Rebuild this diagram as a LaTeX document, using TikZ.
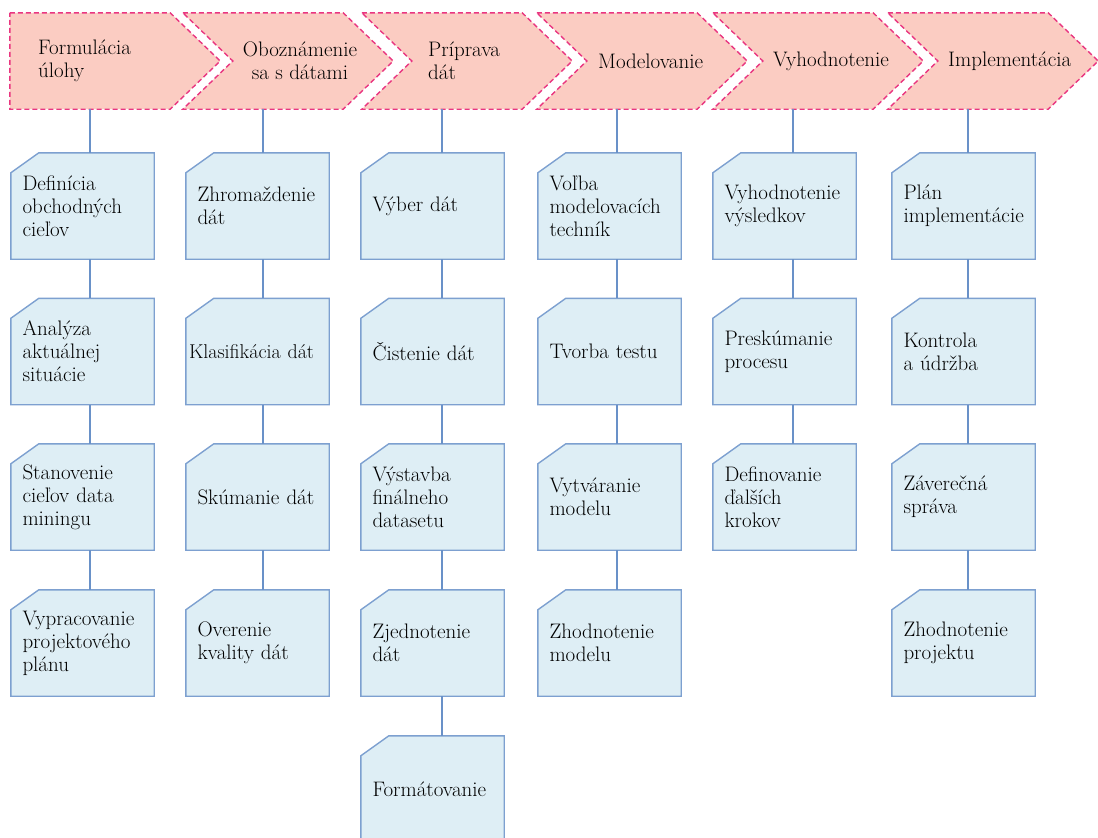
\documentclass[tikz,border=0pt]{standalone}
\usetikzlibrary{backgrounds}
\definecolor{phasefill}{RGB}{251,204,194}
\definecolor{phaseline}{RGB}{233,54,128}
\definecolor{taskfill}{RGB}{222,238,245}
\definecolor{taskline}{RGB}{125,160,208}
\definecolor{linkblue}{RGB}{105,145,200}

\begin{document}
\begin{tikzpicture}[
    x=1pt, y=-1pt,
    every node/.style={font=\fontsize{21}{23}\selectfont},
    phasebox/.style={rectangle, minimum width=160pt, minimum height=96pt, inner sep=0pt},
    phaseshape/.style={fill=phasefill, draw=phaseline, line width=1.4pt, dash pattern=on 5pt off 3pt},
    phasetext/.style={align=left, inner sep=0pt},
    taskbox/.style={rectangle, minimum width=143pt, minimum height=106pt, inner sep=0pt, text width=120pt, align=left},
    taskshape/.style={fill=taskfill, draw=taskline, line width=1.4pt},
    link/.style={draw=linkblue, line width=1.2pt}
]
\useasboundingbox (0,0) rectangle (1098,838);

% Phases (top row), body only; the point is added below
\node[phasebox] (p1) at (90,61) {};
\node[phasebox] (p2) at (263,61) {};
\node[phasebox] (p3) at (442,61) {};
\node[phasebox] (p4) at (617,61) {};
\node[phasebox] (p5) at (793,61) {};
\node[phasebox] (p6) at (968,61) {};

\node[phasetext, anchor=west] (t1) at (38,61) {Formulácia\\úlohy};
\node[phasetext, align=center] (t2) at (300,61) {Oboznámenie\\sa s dátami};
\node[phasetext, anchor=west] (t3) at (428,61) {Príprava\\dát};
\node[phasetext, anchor=west] (t4) at (598,61) {Modelovanie};
\node[phasetext, anchor=west] (t5) at (773,61) {Vyhodnotenie};
\node[phasetext, anchor=west] (t6) at (948,61) {Implementácia};

% Tasks, column 1
\node[taskbox] (b11) at (82.5,206) {Definícia\\obchodných\\cieľov};
\node[taskbox] (b12) at (82.5,351.5) {Analýza\\aktuálnej\\situácie};
\node[taskbox] (b13) at (82.5,497) {Stanovenie\\cieľov data\\miningu};
\node[taskbox] (b14) at (82.5,643) {Vypracovanie\\projektového\\plánu};

% Tasks, column 2
\node[taskbox] (b21) at (257.5,206) {Zhromaždenie\\dát};
\node[taskbox, text width=137pt, font=\fontsize{20}{23}\selectfont] (b22) at (257.5,351.5) {Klasifikácia dát};
\node[taskbox] (b23) at (257.5,497) {Skúmanie dát};
\node[taskbox] (b24) at (257.5,643) {Overenie\\kvality dát};

% Tasks, column 3
\node[taskbox] (b31) at (432.5,206) {Výber dát};
\node[taskbox] (b32) at (432.5,351.5) {Čistenie dát};
\node[taskbox] (b33) at (432.5,497) {Výstavba\\finálneho\\datasetu};
\node[taskbox] (b34) at (432.5,643) {Zjednotenie\\dát};
\node[taskbox] (b35) at (432.5,789) {Formátovanie};

% Tasks, column 4
\node[taskbox] (b41) at (609.5,206) {Voľba\\modelovacích\\techník};
\node[taskbox] (b42) at (609.5,351.5) {Tvorba testu};
\node[taskbox] (b43) at (609.5,497) {Vytváranie\\modelu};
\node[taskbox] (b44) at (609.5,643) {Zhodnotenie\\modelu};

% Tasks, column 5
\node[taskbox] (b51) at (784.5,206) {Vyhodnotenie\\výsledkov};
\node[taskbox] (b52) at (784.5,351.5) {Preskúmanie\\procesu};
\node[taskbox] (b53) at (784.5,497) {Definovanie\\ďalších\\krokov};

% Tasks, column 6
\node[taskbox] (b61) at (963.5,206) {Plán\\implementácie};
\node[taskbox] (b62) at (963.5,351.5) {Kontrola\\a údržba};
\node[taskbox] (b63) at (963.5,497) {Záverečná\\správa};
\node[taskbox] (b64) at (963.5,643) {Zhodnotenie\\projektu};

% Outlines behind the text
\begin{scope}[on background layer]
\filldraw[phaseshape] (p1.north west) -- (p1.north east) -- ([xshift=50pt]p1.east) -- (p1.south east) -- (p1.south west) -- cycle;
\foreach \p in {p2,p3,p4,p5,p6}
    \filldraw[phaseshape] (\p.north west) -- (\p.north east) -- ([xshift=50pt]\p.east) -- (\p.south east) -- (\p.south west) -- ([xshift=50pt]\p.west) -- cycle;
\foreach \b in {b11,b12,b13,b14,b21,b22,b23,b24,b31,b32,b33,b34,b35,b41,b42,b43,b44,b51,b52,b53,b61,b62,b63,b64}
    \filldraw[taskshape] ([yshift=-20pt]\b.north west) -- ([xshift=28pt]\b.north west) -- (\b.north east) -- (\b.south east) -- (\b.south west) -- cycle;
\end{scope}

% Links phase -> tasks
\foreach \c/\n in {1/4,2/4,3/5,4/4,5/3,6/4} {
    \draw[link] (p\c.south) -- (p\c.south |- b\c1.north);
    \foreach \r in {2,...,\n} {
        \pgfmathtruncatemacro\q{\r-1}
        \draw[link] (p\c.south |- b\c\q.south) -- (p\c.south |- b\c\r.north);
    }
}

\end{tikzpicture}
\end{document}
